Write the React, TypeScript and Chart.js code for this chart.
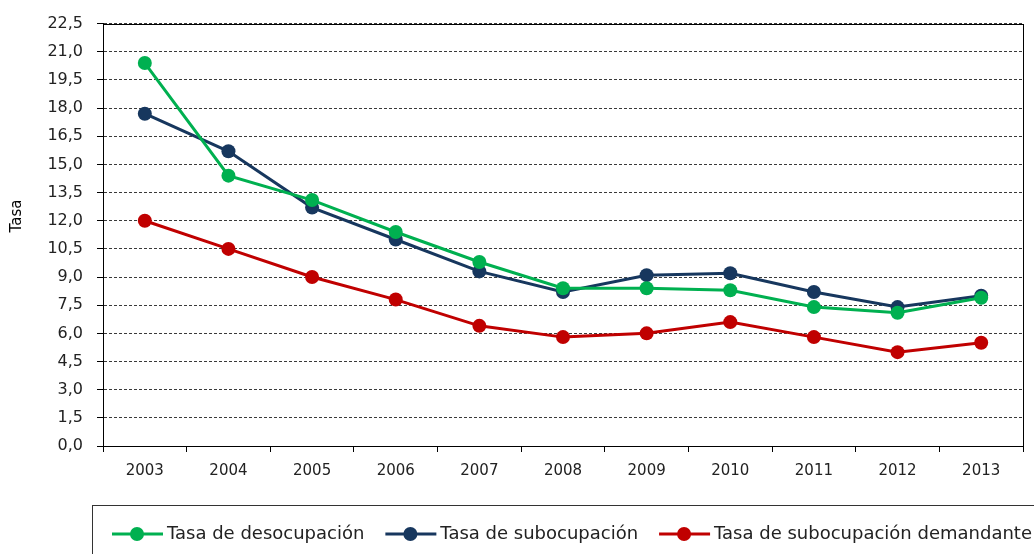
import React, { useEffect, useRef } from "react";
import { Chart, registerables } from "chart.js";

Chart.register(...registerables);

const years = ["2003", "2004", "2005", "2006", "2007", "2008", "2009", "2010", "2011", "2012", "2013"];
const desocupacion = [20.4, 14.4, 13.1, 11.4, 9.8, 8.4, 8.4, 8.3, 7.4, 7.1, 7.9];
const subocupacion = [17.7, 15.7, 12.7, 11.0, 9.3, 8.2, 9.1, 9.2, 8.2, 7.4, 8.0];
const demandante = [12.0, 10.5, 9.0, 7.8, 6.4, 5.8, 6.0, 6.6, 5.8, 5.0, 5.5];
const seriesNames = ["Tasa de desocupación", "Tasa de subocupación", "Tasa de subocupación demandante"];
const seriesColors = ["#00B050", "#17375E", "#C00000"];
const yTitle = "Tasa";

const FONT = "'DejaVu Sans', Verdana, sans-serif";

const framePlugin = {
  id: "frame",
  beforeDatasetsDraw(chart: any) {
    const { ctx, chartArea } = chart;
    ctx.save();
    ctx.strokeStyle = "#000";
    ctx.lineWidth = 1;
    ctx.setLineDash([]);
    ctx.strokeRect(Math.round(chartArea.left) + 0.5, Math.round(chartArea.top) + 0.5,
      Math.round(chartArea.right - chartArea.left), Math.round(chartArea.bottom - chartArea.top));
    ctx.restore();
  },
};

const legendPlugin = {
  id: "boxLegend",
  afterDraw(chart: any) {
    const { ctx } = chart;
    ctx.save();
    // axis title
    ctx.save();
    ctx.translate(17, 216);
    ctx.rotate(-Math.PI / 2);
    ctx.font = "15px " + FONT;
    ctx.fillStyle = "#000";
    ctx.textAlign = "center";
    ctx.textBaseline = "middle";
    ctx.fillText(yTitle, 0, 0);
    ctx.restore();
    // legend box
    ctx.strokeStyle = "#333";
    ctx.lineWidth = 1;
    ctx.strokeRect(92.5, 505.5, 1000, 100);
    ctx.font = "18px " + FONT;
    ctx.textBaseline = "middle";
    ctx.textAlign = "left";
    let x = 112;
    const y = 534;
    chart.data.datasets.forEach((ds: any) => {
      ctx.strokeStyle = ds.borderColor;
      ctx.lineWidth = 3;
      ctx.beginPath();
      ctx.moveTo(x, y);
      ctx.lineTo(x + 51, y);
      ctx.stroke();
      ctx.fillStyle = ds.borderColor;
      ctx.beginPath();
      ctx.arc(x + 25, y, 7, 0, Math.PI * 2);
      ctx.fill();
      ctx.fillStyle = "#222";
      ctx.fillText(ds.label, x + 55, y);
      x += 55 + ctx.measureText(ds.label).width + 21;
    });
    ctx.restore();
  },
};

export default function App() {
  const ref = useRef<HTMLCanvasElement>(null);
  useEffect(() => {
    const mk = (i: number, data: number[]) => ({
      label: seriesNames[i],
      data,
      borderColor: seriesColors[i],
      backgroundColor: seriesColors[i],
      pointBackgroundColor: seriesColors[i],
      pointBorderColor: seriesColors[i],
      borderWidth: 3,
      pointRadius: 7,
      pointBorderWidth: 0,
      tension: 0,
    });
    const chart = new Chart(ref.current!, {
      type: "line",
      data: {
        labels: years,
        datasets: [mk(0, desocupacion), mk(1, subocupacion), mk(2, demandante)],
      },
      options: {
        animation: false,
        responsive: false,
        layout: { padding: { top: 23, right: 11, bottom: 64, left: 0 } },
        plugins: { legend: { display: false }, tooltip: { enabled: false } },
        scales: {
          x: {
            offset: true,
            grid: {
              offset: true,
              drawOnChartArea: false,
              drawTicks: true,
              tickLength: 6,
              tickColor: "#000",
              color: "#000",
            },
            border: { color: "#000", width: 1 },
            ticks: { color: "#222", font: { family: FONT, size: 15 }, padding: 10, maxRotation: 0 },
            afterFit: (s: any) => { s.height = 44; },
          },
          y: {
            min: 0,
            max: 22.5,
            grid: {
              color: "#3a3a3a",
              lineWidth: 1,
              tickLength: 6,
              tickColor: "#000",
              tickBorderDash: [],
            } as any,
            border: { color: "#000", width: 1, dash: [3, 2] },
            ticks: {
              stepSize: 1.5,
              color: "#222",
              padding: 14,
              font: { family: FONT, size: 16 },
              callback: (v: any) => Number(v).toFixed(1).replace(".", ","),
            },
            title: { display: false },
            afterFit: (s: any) => { s.width = 103; },
          },
        },
      },
      plugins: [framePlugin, legendPlugin],
    });
    return () => chart.destroy();
  }, []);
  return (
    <div style={{ position: "fixed", left: 0, top: 0, width: 1034, height: 554, background: "#fff" }}>
      <canvas ref={ref} width={1034} height={554} style={{ display: "block" }} />
    </div>
  );
}
